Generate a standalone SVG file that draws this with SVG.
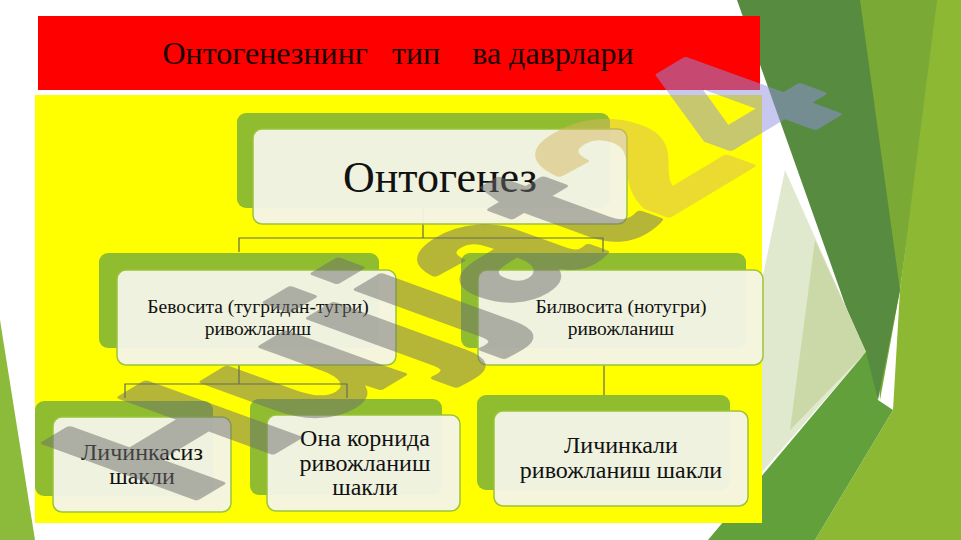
<svg xmlns="http://www.w3.org/2000/svg" width="961" height="540" viewBox="0 0 961 540">
<defs>
<style>
.back{fill:#8fbd2f;}
.front{fill:#f3f4e8;stroke:#9cc43a;stroke-width:1.5;fill-opacity:0.95;}
.lbl{font-family:"Liberation Serif","Times New Roman",serif;fill:#111;text-anchor:middle;}
.conn{fill:none;stroke:#5e6b4c;stroke-width:1.2;}
.wm{font-family:"Liberation Sans",Arial,sans-serif;font-weight:bold;font-size:100px;stroke-width:3;stroke-linejoin:round;}
</style>
</defs>
<rect width="961" height="540" fill="#ffffff"/>
<g id="background">
<polygon points="0,320 35,540 0,540" fill="#8cbb3c"/>
<polygon points="858,0 940,0 900,290 880,400" fill="#7aa935"/>
<polygon points="937,0 961,0 961,540 815,540 893,410 900,290" fill="#8cb833"/>
<polygon points="737,0 860,0 900,290 878,400 840,290 785,135" fill="#578b3f"/>
<polygon points="785,170 866,352 762,472 762,280" fill="#e0e9cd"/>
<polygon points="815,240 866,352 790,430" fill="#cbd9a8"/>
<polygon points="708,540 765,472 866,352 878,400 893,410 815,540" fill="#62a03c"/>
<rect x="38" y="16" width="722" height="74" fill="#ff0000"/>
<rect x="35" y="95" width="727" height="428" fill="#ffff00"/>
<text x="398" y="64" font-family="Liberation Serif,Times New Roman,serif" font-size="32" fill="#1a0000" text-anchor="middle" xml:space="preserve">Онтогенезнинг   тип    ва даврлари</text>
</g>
<g id="connectors">
<path class="conn" d="M423,208 V238 M239,252 V238 H603 V252"/>
<path class="conn" d="M239,365 V384 M125,398 V384 H347 V398"/>
<path class="conn" d="M604,365 V395"/>
</g>
<g id="node-root">
<rect class="back" x="237" y="113" width="373" height="95" rx="9"/>
<rect class="front" x="253" y="129" width="374" height="95" rx="9"/>
<text class="lbl" x="440" y="192" font-size="44">Онтогенез</text>
</g>
<g id="node-direct">
<rect class="back" x="99" y="253" width="280" height="95" rx="9"/>
<rect class="front" x="117" y="270" width="279" height="95" rx="9"/>
<text class="lbl" x="258" y="313" font-size="19.5">Бевосита (тугридан-тугри)</text>
<text class="lbl" x="258" y="335" font-size="19.5">ривожланиш</text>
</g>
<g id="node-indirect">
<rect class="back" x="461" y="253" width="285" height="95" rx="9"/>
<rect class="front" x="478" y="270" width="285" height="95" rx="9"/>
<text class="lbl" x="621" y="313" font-size="19.5">Билвосита (нотугри)</text>
<text class="lbl" x="621" y="335" font-size="19.5">ривожланиш</text>
</g>
<g id="node-larvaless">
<rect class="back" x="35" y="401" width="178" height="95" rx="9"/>
<rect class="front" x="53" y="417" width="178" height="95" rx="9"/>
<text class="lbl" x="142" y="460" font-size="24">Личинкасиз</text>
<text class="lbl" x="142" y="484" font-size="24">шакли</text>
</g>
<g id="node-uterine">
<rect class="back" x="250" y="399" width="192" height="96" rx="9"/>
<rect class="front" x="267" y="415" width="193" height="96" rx="9"/>
<text class="lbl" x="365" y="446" font-size="24">Она корнида</text>
<text class="lbl" x="365" y="471" font-size="24">ривожланиш</text>
<text class="lbl" x="365" y="495" font-size="24">шакли</text>
</g>
<g id="node-larval">
<rect class="back" x="477" y="395" width="253" height="95" rx="9"/>
<rect class="front" x="494" y="411" width="254" height="95" rx="9"/>
<text class="lbl" x="621" y="453" font-size="24">Личинкали</text>
<text class="lbl" x="621" y="478" font-size="24">ривожланиш шакли</text>
</g>
<g id="watermark" opacity="0.5">
<text class="wm" transform="matrix(1.72,-1.03,2.2,0.8,185,505)"><tspan fill="#6e6e6e" stroke="#6e6e6e">Hujjat</tspan><tspan fill="#d8b860" stroke="#d8b860">2</tspan><tspan fill="#9090e0" stroke="#9090e0">4</tspan></text>
</g>
</svg>
